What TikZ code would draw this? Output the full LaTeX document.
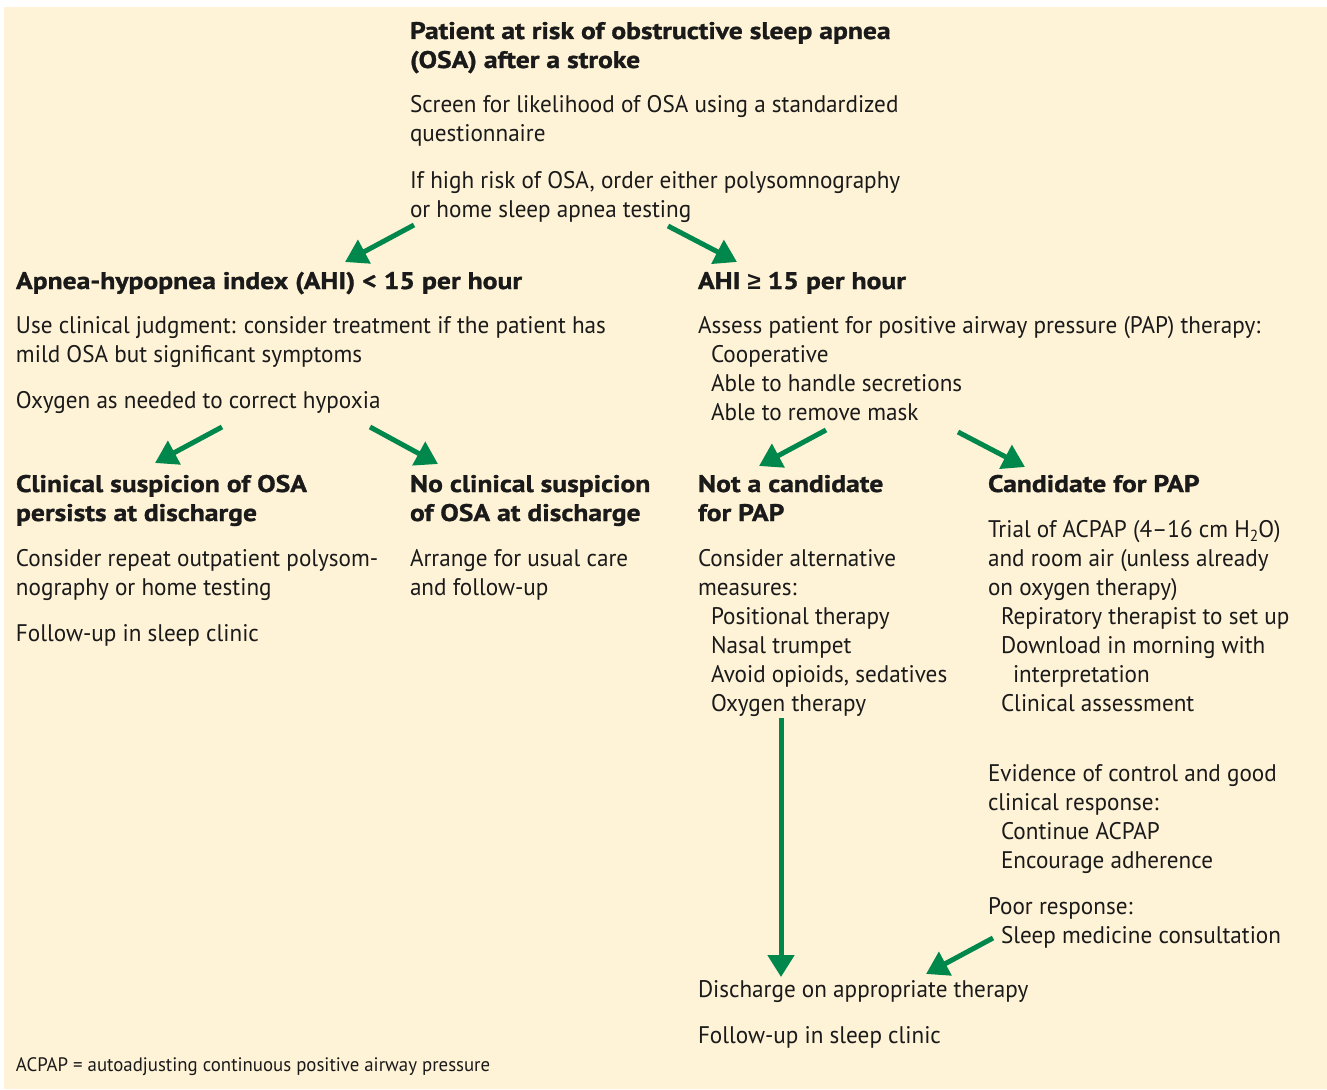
\documentclass[tikz,border=0pt]{standalone}
\usepackage{fontspec}
\setmainfont{PT Sans}[FakeStretch=0.965,BoldFeatures={FakeStretch=1.15,FakeBold=1.2}]
\newfontfamily\symfont{Liberation Sans}
\usetikzlibrary{arrows.meta}
\definecolor{bg}{HTML}{FFF3D7}
\definecolor{arr}{HTML}{00874B}
\definecolor{ink}{HTML}{1A1A1A}
\newcommand{\ind}{\hspace*{13pt}}
\newcommand{\indd}{\hspace*{25pt}}
\begin{document}
\begin{tikzpicture}[x=1pt,y=-1pt,
  txt/.style={anchor=base west,inner sep=0pt,outer sep=0pt,text=ink,font=\fontsize{24}{29}\selectfont},
  hd/.style={txt,font=\fontsize{24}{29}\selectfont\bfseries},
  flow/.style={draw=arr,line width=5pt,-{Triangle[length=22pt,width=26pt]}}]
\useasboundingbox (0,0) rectangle (1327,1089);
\fill[bg] (4,7) rectangle (1327,1089);
% top
\node[hd] (t1) at (410,39) {\begin{tabular}[t]{@{}l@{}}Patient at risk of obstructive sleep apnea\\(OSA) after a stroke\end{tabular}};
\node[txt] (t2) at (410,113) {\begin{tabular}[t]{@{}l@{}}Screen for likelihood of OSA using a standardized\\questionnaire\end{tabular}};
\node[txt] (t3) at (410,188) {\begin{tabular}[t]{@{}l@{}}If high risk of OSA, order either polysomnography\\or home sleep apnea testing\end{tabular}};
% left level 2
\node[hd] (l1) at (16,289) {Apnea-hypopnea index (AHI) < 15 per hour};
\node[txt] (l2) at (16,333) {\begin{tabular}[t]{@{}l@{}}Use clinical judgment: consider treatment if the patient has\\mild OSA but significant symptoms\end{tabular}};
\node[txt] (l3) at (16,408) {Oxygen as needed to correct hypoxia};
% right level 2
\node[hd] (r1) at (698,289) {AHI {\symfont\bfseries ≥} 15 per hour};
\node[txt] (r2) at (698,333) {\begin{tabular}[t]{@{}l@{}}Assess patient for positive airway pressure (PAP) therapy:\\\ind Cooperative\\\ind Able to handle secretions\\\ind Able to remove mask\end{tabular}};
% level 3
\node[hd] (a1) at (16,492) {\begin{tabular}[t]{@{}l@{}}Clinical suspicion of OSA\\persists at discharge\end{tabular}};
\node[txt] (a2) at (16,566) {\begin{tabular}[t]{@{}l@{}}Consider repeat outpatient polysom-\\nography or home testing\end{tabular}};
\node[txt] (a3) at (16,641) {Follow-up in sleep clinic};
\node[hd] (b1) at (410,492) {\begin{tabular}[t]{@{}l@{}}No clinical suspicion\\of OSA at discharge\end{tabular}};
\node[txt] (b2) at (410,566) {\begin{tabular}[t]{@{}l@{}}Arrange for usual care\\and follow-up\end{tabular}};
\node[hd] (c1) at (698,492) {\begin{tabular}[t]{@{}l@{}}Not a candidate\\for PAP\end{tabular}};
\node[txt] (c2) at (698,566) {\begin{tabular}[t]{@{}l@{}}Consider alternative\\measures:\\\ind Positional therapy\\\ind Nasal trumpet\\\ind Avoid opioids, sedatives\\\ind Oxygen therapy\end{tabular}};
\node[hd] (d1) at (988,492) {Candidate for PAP};
\node[txt] (d2) at (988,537) {\begin{tabular}[t]{@{}l@{}}Trial of ACPAP (4–16 cm H\raisebox{-4pt}{\fontsize{16}{16}\selectfont 2}O)\\and room air (unless already\\on oxygen therapy)\\\ind Repiratory therapist to set up\\\ind Download in morning with\\\indd interpretation\\\ind Clinical assessment\end{tabular}};
\node[txt] (d3) at (988,781) {\begin{tabular}[t]{@{}l@{}}Evidence of control and good\\clinical response:\\\ind Continue ACPAP\\\ind Encourage adherence\end{tabular}};
\node[txt] (d4) at (988,914) {\begin{tabular}[t]{@{}l@{}}Poor response:\\\ind Sleep medicine consultation\end{tabular}};
% bottom
\node[txt] (e1) at (698,997) {Discharge on appropriate therapy};
\node[txt] (e2) at (698,1043) {Follow-up in sleep clinic};
\node[txt,font=\fontsize{19.5}{23}\selectfont] (fn) at (16,1071) {ACPAP = autoadjusting continuous positive airway pressure};
% arrow endpoints
\coordinate (s1) at (414,225); \coordinate (e1a) at (345,262);
\coordinate (s2) at (668,226); \coordinate (e2a) at (737,262);
\coordinate (s3) at (222,427); \coordinate (e3a) at (155,463);
\coordinate (s4) at (370,427); \coordinate (e4a) at (438,464);
\coordinate (s5) at (826,430); \coordinate (e5a) at (759,466);
\coordinate (s6) at (958,432); \coordinate (e6a) at (1025,467);
\coordinate (s7) at (781,718); \coordinate (e7a) at (781,977);
\coordinate (s8) at (993,938); \coordinate (e8a) at (926,974);
\draw[flow] (s1) -- (e1a);
\draw[flow] (s2) -- (e2a);
\draw[flow] (s3) -- (e3a);
\draw[flow] (s4) -- (e4a);
\draw[flow] (s5) -- (e5a);
\draw[flow] (s6) -- (e6a);
\draw[flow] (s7) -- (e7a);
\draw[flow] (s8) -- (e8a);
\end{tikzpicture}
\end{document}
